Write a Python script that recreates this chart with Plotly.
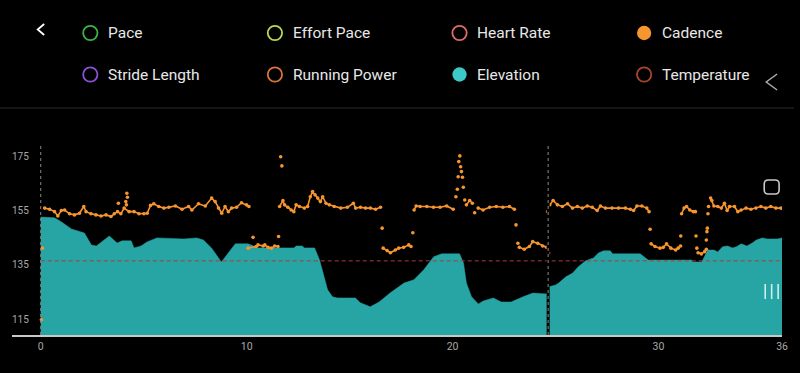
import plotly.graph_objects as go

# ---------------- data ----------------
# Elevation profile (drawn on the same scale as cadence); None = missing sample
elev_km = [0.0, 0.67, 1.01, 1.49, 2.12, 2.46, 2.70, 3.33, 3.71, 3.95, 4.39, 4.53, 4.87,
           5.16, 5.64, 6.94, 7.57, 7.90, 8.29, 8.77, 9.45, 10.07, 10.55, 12.3, 12.4,
           12.7, 12.8, 13.3, 13.54, 13.78, 13.93, 14.17, 14.41, 15.28, 15.52, 16.0,
           16.43, 16.96, 17.64, 18.12, 18.6, 19.08, 19.47, 20.34, 20.53, 20.67, 20.92,
           21.25, 21.49, 21.98, 22.36, 22.84, 23.23, 23.42, 23.9, 24.55, 24.6,
           24.68, 25.0, 25.15, 25.5, 25.83, 26.1, 26.46, 26.84, 27.08, 27.33, 27.66,
           27.76, 29.11, 29.35, 29.5, 31.6, 31.65, 32.1, 32.2, 32.39, 32.7, 32.87,
           33.11, 33.35, 33.59, 33.78, 34.02, 34.29, 34.55, 34.75, 35.04, 35.28,
           35.76, 35.9, 36.0]
elev_val = [152.7, 152.4, 150.9, 148.3, 146.8, 142.4, 142.0, 145.7, 143.1, 143.9, 143.9,
            141.3, 142.0, 143.5, 145.0, 144.6, 145.0, 144.2, 141.3, 136.1, 142.8, 142.8,
            141.3, 141.3, 142.0, 142.0, 141.3, 141.3, 136.8, 130.6, 125.8, 123.2, 122.8,
            122.8, 121.0, 119.5, 121.3, 124.6, 128.3, 129.5, 133.2, 138.0, 139.1, 139.1,
            135.7, 128.3, 123.2, 120.6, 121.7, 122.8, 121.3, 121.3, 122.4, 123.2, 124.6,
            124.3, None, 126.9, 127.6, 128.3, 130.6, 132.0, 134.3, 136.5, 137.6, 139.4,
            140.2, 140.2, 139.1, 139.1, 137.6, 136.8, 136.8, 136.1, 136.1, 137.6, 140.5,
            140.5, 139.8, 141.7, 142.0, 141.3, 141.7, 142.8, 142.0, 143.1, 144.2, 145.0,
            144.6, 144.6, 145.0, 145.0]

# Cadence samples (None separates segments / isolated samples)
cad_km = [0.03, None, 0.08, None,
          0.19, 0.43, 0.67, 0.83, 1.00, 1.16, 1.40, 1.64, 1.88, 2.09, 2.20, 2.44, 2.68,
          2.93, 3.17, 3.41, 3.57, 3.73, 3.89, 4.05, 4.29, 4.53, 4.77, 5.01, 5.17, 5.33,
          5.49, 5.73, 5.98, 6.22, 6.54, 6.86, 7.18, 7.34, 7.66, 7.99, 8.30, 8.47, 8.63,
          8.79, 8.95, 9.11, 9.27, 9.51, 9.75, 9.99, 10.11, None,
          3.77, None, 4.13, None, 4.16, None, 4.18, None, 4.21, None,
          10.07, 10.46, 10.55, 10.80, 10.88, 11.04, 11.20, 11.36, 11.52, None,
          10.31, None, 11.55, None, 11.65, None, 11.71, None,
          11.60, 11.76, 11.84, 12.00, 12.16, 12.29, 12.40, 12.56, 12.80, 12.96, 13.09,
          13.20, 13.32, 13.45, 13.58, 13.69, 13.85, 14.01, 14.25, 14.57, 14.89, 15.18,
          15.29, 15.53, 15.77, 16.01, 16.26, 16.50, None,
          16.58, None,
          16.63, 16.82, 16.98, 17.22, 17.38, 17.62, 17.87, 17.98, None,
          18.07, None,
          18.13, 18.23, 18.42, 18.75, 19.07, 19.39, 19.71, 20.03, None,
          20.16, None, 20.23, None, 20.27, None, 20.30, None, 20.35, None, 20.39, None,
          20.43, None, 20.48, None, 20.52, None, 20.59, None,
          20.67, 20.83, 20.96, None, 21.07, None,
          21.24, 21.48, 21.80, 22.12, 22.44, 22.76, 23.00, None,
          23.08, None, 23.17, None,
          23.24, 23.48, 23.73, 23.89, 24.13, 24.37, 24.56, None,
          24.66, None, 24.61, None,
          24.72, 24.88, 25.09, 25.33, 25.58, 25.82, 26.06, 26.30, 26.54, 26.78, 27.02,
          27.18, 27.42, 27.74, 28.06, 28.39, 28.63, 28.79, 28.95, 29.19, 29.43, 29.54, None,
          29.59, None,
          29.64, 29.83, 30.07, 30.23, 30.39, 30.60, 30.83, 30.95, 31.07, None,
          31.08, None,
          31.12, 31.24, 31.36, 31.52, 31.69, 31.79, None,
          31.82, None, 31.86, None,
          31.92, 32.08, 32.24, 32.32, None,
          32.32, None, 32.35, None, 32.37, None, 32.40, None, 32.43, None,
          32.53, 32.59, 32.69, 32.88, 33.05, 33.20, 33.33, 33.45, 33.69, 33.85, 34.01,
          34.25, 34.49, 34.73, 34.97, 35.21, 35.45, 35.70, 35.94]
cad_spm = [114.7, None, 141.2, None,
           156.0, 155.6, 154.7, 153.1, 155.1, 155.3, 153.9, 153.5, 154.1, 156.6, 154.7,
           153.9, 153.5, 153.1, 153.5, 152.9, 153.9, 154.7, 153.9, 156.0, 154.7, 154.7,
           153.9, 153.9, 154.1, 157.0, 157.6, 156.6, 156.0, 156.3, 156.8, 155.6, 156.6,
           155.3, 157.6, 156.8, 159.7, 158.4, 156.0, 154.1, 156.6, 154.7, 156.0, 156.3,
           158.0, 157.2, 156.6, None,
           157.8, None, 158.4, None, 157.2, None, 161.5, None, 160.0, None,
           141.2, 141.8, 142.4, 142.0, 142.4, 141.5, 141.2, 142.0, 141.8, None,
           145.2, None, 145.5, None, 175.0, None, 171.6, None,
           156.6, 158.8, 157.2, 156.3, 155.3, 154.7, 157.2, 156.6, 156.0, 156.6, 160.2,
           162.1, 160.9, 159.7, 158.4, 160.2, 157.8, 157.2, 156.6, 156.0, 156.3, 157.8,
           156.0, 156.3, 156.0, 156.0, 155.6, 156.3, None,
           148.6, None,
           141.2, 140.3, 139.5, 140.5, 141.2, 141.5, 142.4, 141.8, None,
           146.9, None,
           155.3, 156.8, 156.6, 156.6, 156.3, 156.3, 156.8, 155.6, None,
           160.2, None, 163.0, None, 167.6, None, 173.2, None, 175.3, None, 171.3, None,
           169.5, None, 167.4, None, 163.7, None, 159.0, None,
           157.2, 158.8, 157.8, None, 154.3, None,
           156.0, 155.3, 156.3, 156.6, 156.3, 156.6, 155.6, None,
           149.8, None, 143.0, None,
           141.5, 140.8, 141.8, 143.6, 143.0, 142.0, 141.5, None,
           139.4, None, 154.7, None,
           157.2, 158.8, 157.2, 156.6, 157.6, 156.0, 156.6, 156.0, 156.8, 156.3, 155.1,
           156.8, 156.0, 156.0, 156.0, 156.0, 155.6, 155.1, 156.8, 156.8, 156.0, 154.7, None,
           148.2, None,
           142.8, 141.8, 141.2, 141.5, 142.8, 141.2, 140.5, 141.2, 142.0, None,
           145.7, None,
           153.9, 156.0, 156.6, 155.3, 154.7, 154.7, None,
           145.7, None, 141.2, None,
           139.5, 139.1, 139.9, 140.8, None,
           144.2, None, 147.3, None, 148.6, None, 153.9, None, 156.6, None,
           159.7, 158.8, 156.8, 156.6, 156.0, 157.8, 155.1, 156.6, 156.6, 154.7, 155.3,
           156.0, 155.6, 156.0, 156.6, 156.0, 156.6, 156.0, 156.0]

x_ticks = [0, 10, 20, 30, 36]
y_ticks = [115, 135, 155, 175]
lap_markers_km = [0, 24.64]
reference_cadence = 136.5

legend_names = ["Pace", "Effort Pace", "Heart Rate", "Cadence",
                "Stride Length", "Running Power", "Elevation", "Temperature"]
legend_colors = ["#3cb34a", "#b9d94c", "#e06a6a", "#f7952f",
                 "#8a52d6", "#d9733c", "#3ec9c9", "#a8462c"]
legend_filled = [False, False, False, True, False, False, True, False]

# ---------------- style / layout ----------------
W, H = 800, 373
BG = "#000000"
TEAL = "#27a4a4"
ORANGE = "#f7952f"

def px(x):
    return x / W

def py(y):
    return 1 - y / H

fig = go.Figure()

fig.add_trace(go.Scatter(
    x=elev_km, y=elev_val, mode="lines", fill="tozeroy",
    line=dict(color=TEAL, width=0.5), fillcolor=TEAL,
    connectgaps=False, hoverinfo="skip", showlegend=False))

fig.add_trace(go.Scatter(
    x=cad_km, y=cad_spm, mode="lines+markers",
    line=dict(color=ORANGE, width=1.6),
    marker=dict(color=ORANGE, size=3.6),
    connectgaps=False, showlegend=False))

shapes = []
# red dashed reference line
shapes.append(dict(type="line", xref="x", yref="y", x0=0, x1=36,
                   y0=reference_cadence, y1=reference_cadence,
                   line=dict(color="#b03a3a", width=1, dash="4px,3px")))
# grey dashed vertical markers
for i, km in enumerate(lap_markers_km):
    if i > 0:
        shapes.append(dict(type="line", xref="x", yref="paper", x0=km, x1=km,
                           y0=py(335), y1=py(144),
                           line=dict(color="#000000", width=3)))
    shapes.append(dict(type="line", xref="x", yref="paper", x0=km, x1=km,
                       y0=py(335), y1=py(144),
                       line=dict(color="#8a8a8a", width=1, dash="3px,3px")))
# separator below the legend
shapes.append(dict(type="line", xref="paper", yref="paper", x0=0, x1=1,
                   y0=py(108), y1=py(108), line=dict(color="#2b2b2b", width=1)))

annotations = []
col_cx = [91, 277, 463, 649]
row_cy = [33, 74.5]
r = 7.2
for i, (name, col, filled) in enumerate(zip(legend_names, legend_colors, legend_filled)):
    cx = col_cx[i % 4]
    cy = row_cy[i // 4]
    shapes.append(dict(type="circle", xref="paper", yref="paper",
                       x0=px(cx - r), x1=px(cx + r), y0=py(cy + r), y1=py(cy - r),
                       line=dict(color=col, width=0 if filled else 1.8),
                       fillcolor=col if filled else "rgba(0,0,0,0)"))
    annotations.append(dict(xref="paper", yref="paper", x=px(cx + 16), y=py(cy),
                            text=name, showarrow=False, xanchor="left", yanchor="middle",
                            font=dict(family="Roboto", size=15.5, color="#e8e8e8")))

# UI glyphs: back chevrons, rounded square, menu bars
shapes.append(dict(type="path", xref="paper", yref="paper",
                   path=f"M {px(44.5)} {py(24)} L {px(38)} {py(29.5)} L {px(44.5)} {py(35)}",
                   line=dict(color="#ffffff", width=1.8)))
shapes.append(dict(type="path", xref="paper", yref="paper",
                   path=f"M {px(783)} {py(74)} L {px(772)} {py(82)} L {px(783)} {py(90)}",
                   line=dict(color="#b0b0b0", width=1.4)))
# rounded square
x0r, x1r, y0r, y1r, k = 770, 785, 180, 194, 4
rs = (f"M {px(x0r + k)} {py(y0r)} L {px(x1r - k)} {py(y0r)} "
      f"Q {px(x1r)} {py(y0r)} {px(x1r)} {py(y0r + k)} L {px(x1r)} {py(y1r - k)} "
      f"Q {px(x1r)} {py(y1r)} {px(x1r - k)} {py(y1r)} L {px(x0r + k)} {py(y1r)} "
      f"Q {px(x0r)} {py(y1r)} {px(x0r)} {py(y1r - k)} L {px(x0r)} {py(y0r + k)} "
      f"Q {px(x0r)} {py(y0r)} {px(x0r + k)} {py(y0r)} Z")
shapes.append(dict(type="path", xref="paper", yref="paper", path=rs,
                   line=dict(color="#c8c8c8", width=1.6), fillcolor="rgba(0,0,0,0)"))
for bx in (771, 777.5, 784):
    shapes.append(dict(type="line", xref="paper", yref="paper",
                       x0=px(bx), x1=px(bx), y0=py(299), y1=py(284),
                       line=dict(color="#cfeeee", width=1.6)))

fig.update_layout(
    width=W, height=H, autosize=False,
    margin=dict(l=0, r=0, t=0, b=0),
    paper_bgcolor=BG, plot_bgcolor=BG,
    showlegend=False,
    shapes=shapes, annotations=annotations,
    xaxis=dict(domain=[px(12), px(788)], range=[-1.4, 36],
               tickvals=x_ticks, ticktext=[str(v) for v in x_ticks],
               showgrid=False, zeroline=False, showline=True,
               linecolor="#c8c8c8", linewidth=2, ticks="",
               tickfont=dict(family="Roboto", size=10.5, color="#a8a8a8")),
    yaxis=dict(domain=[1 - 335 / H, 1 - 144 / H], range=[109.1, 179.7],
               tickvals=y_ticks, ticktext=[str(v) for v in y_ticks],
               showgrid=False, zeroline=False, showline=False, ticks="",
               ticklabelposition="inside", ticklabelstandoff=-3,
               tickfont=dict(family="Roboto", size=10, color="#a8a8a8")),
)

fig.write_html(
    "out.html",
    config=dict(displayModeBar=False, responsive=False),
    post_script=("document.body.style.margin='0';document.body.style.padding='0';"
                 "document.body.style.overflow='hidden';"
                 "document.documentElement.style.overflow='hidden';"
                 "document.body.style.background='#000';"),
)
